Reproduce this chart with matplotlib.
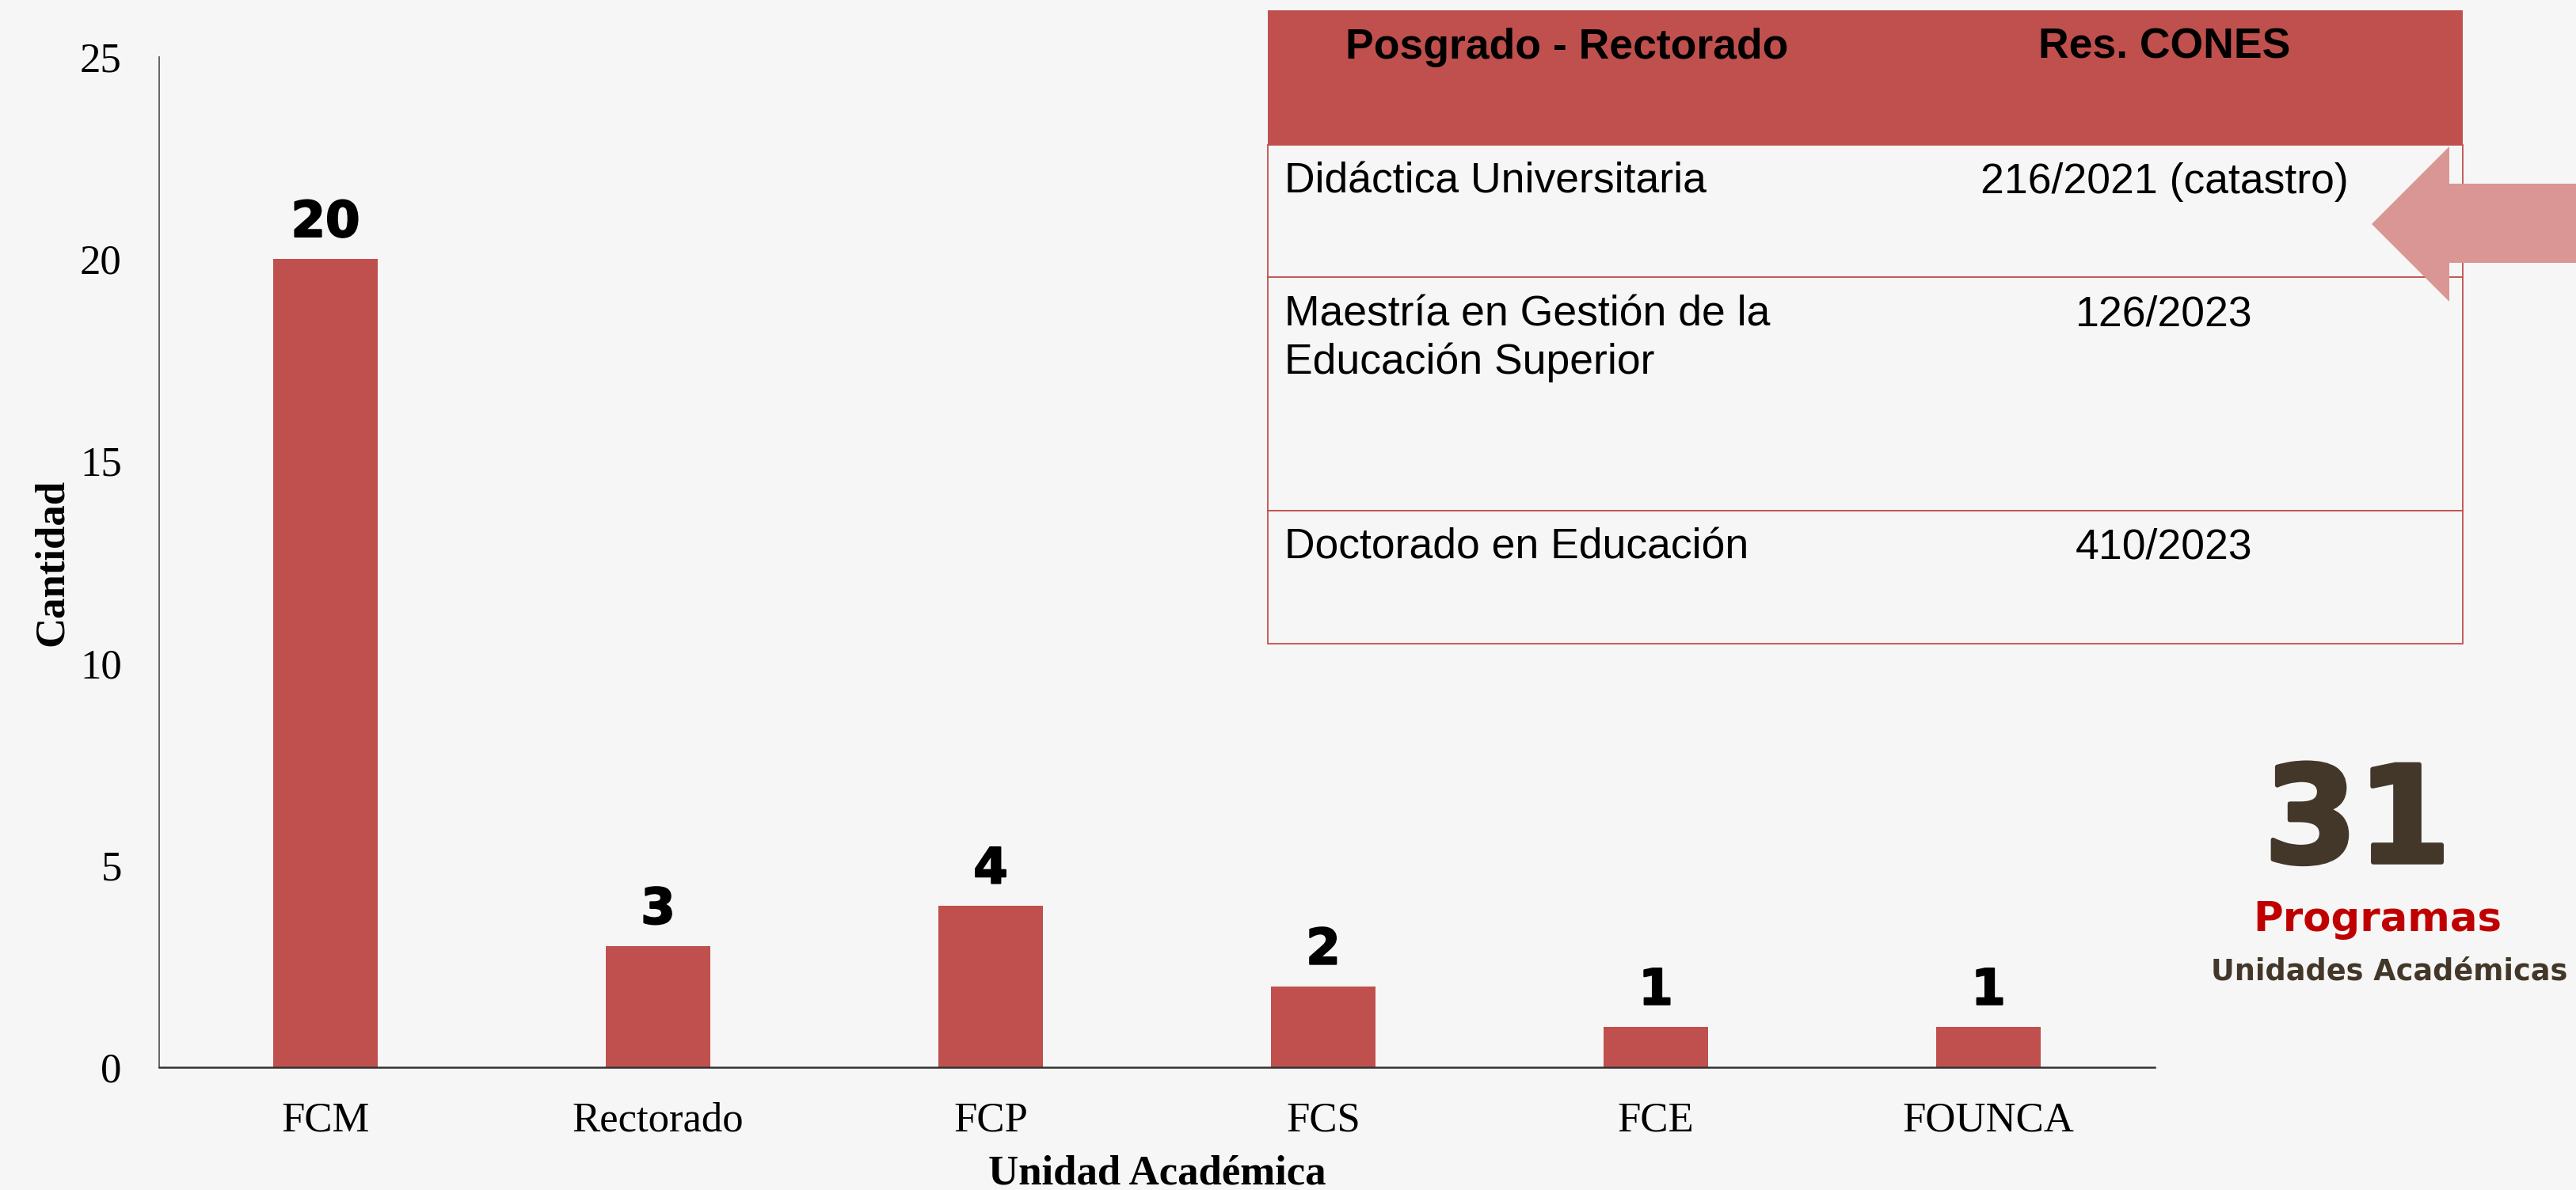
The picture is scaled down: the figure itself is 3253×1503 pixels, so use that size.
import matplotlib
matplotlib.use('Agg')
import matplotlib.pyplot as plt
import matplotlib.patheffects as pe
from matplotlib.patches import Rectangle, Polygon

# datos del gráfico
unidades = ['FCM', 'Rectorado', 'FCP', 'FCS', 'FCE', 'FOUNCA']
cantidades = [20, 3, 4, 2, 1, 1]

# tabla de posgrados del Rectorado
encabezado = ['Posgrado - Rectorado', 'Res. CONES']
programas = ['Didáctica Universitaria',
             'Maestría en Gestión de la\nEducación Superior',
             'Doctorado en Educación']
resoluciones = ['216/2021 (catastro)', '126/2023', '410/2023']

W, H = 3253, 1503
FONDO = '#F6F6F6'
ROJO = '#C0504D'
MARRON = '#433729'

fig = plt.figure(figsize=(W / 100, H / 100), dpi=100, facecolor=FONDO)

# gráfico de barras
ax = fig.add_axes([201 / W, 1 - 1348 / H, (2721 - 201) / W, (1348 - 72) / H])
ax.set_facecolor(FONDO)
barras = ax.bar(unidades, cantidades, width=0.314, color=ROJO, zorder=2)
etiquetas = ax.bar_label(barras, padding=11, fontsize=45, fontweight='bold',
                         family='DejaVu Sans', color='black')
for t in etiquetas:
    t.set_path_effects([pe.withStroke(linewidth=1.5, foreground='black')])
ax.set_xlim(-0.5, len(unidades) - 0.5)
ax.set_ylim(0, 25)
ax.set_yticks(range(0, 26, 5))

for s in ['top', 'right']:
    ax.spines[s].set_visible(False)
ax.spines['left'].set_color('#595959')
ax.spines['left'].set_linewidth(1.3)
ax.spines['bottom'].set_color('#333333')
ax.spines['bottom'].set_linewidth(1.8)

ax.tick_params(axis='y', length=0, pad=34, labelsize=38)
ax.tick_params(axis='x', length=0, pad=31, labelsize=38)
for lbl in ax.get_xticklabels() + ax.get_yticklabels():
    lbl.set_family('Liberation Serif')

ax.set_xlabel('Unidad Académica', family='Liberation Serif', fontweight='bold',
              fontsize=38, labelpad=14)
ax.set_ylabel('Cantidad', family='Liberation Serif', fontweight='bold',
              fontsize=38, labelpad=8)

# capa superior en pixeles para la tabla, la flecha y el total
ov = fig.add_axes([0, 0, 1, 1], zorder=5)
ov.set_xlim(0, W)
ov.set_ylim(H, 0)
ov.axis('off')
ov.patch.set_alpha(0)

x0, x1 = 1601, 3110
col2 = 2733
filas = [183, 350, 645, 813]
fs_tabla = 38.5

ov.add_patch(Rectangle((x0, 13), x1 - x0, filas[0] - 13, facecolor=ROJO,
                       edgecolor='none'))
ov.text(1979, 74, encabezado[0], ha='center', va='baseline', fontsize=fs_tabla,
        fontweight='bold', family='Liberation Sans', color='black')
ov.text(col2, 74, encabezado[1], ha='center', va='baseline', fontsize=fs_tabla,
        fontweight='bold', family='Liberation Sans', color='black')

for i, (prog, res) in enumerate(zip(programas, resoluciones)):
    top, bot = filas[i], filas[i + 1]
    ov.add_patch(Rectangle((x0, top), x1 - x0, bot - top, facecolor=FONDO,
                           edgecolor=ROJO, linewidth=1.3))
    base = top + 61
    for k, linea in enumerate(prog.split('\n')):
        ov.text(1622, base + 61 * k, linea, ha='left', va='baseline',
                fontsize=fs_tabla, family='Liberation Sans', color='black')
    ov.text(col2, base, res, ha='center', va='baseline', fontsize=fs_tabla,
            family='Liberation Sans', color='black')

# flecha
ov.add_patch(Polygon([(2995, 283), (3093, 185), (3093, 232), (W, 232),
                      (W, 332), (3093, 332), (3093, 381)],
                     closed=True, facecolor='#D99694', edgecolor='none',
                     zorder=6))

# total de programas
total = sum(cantidades)
t31 = ov.text(2977, 1089, str(total), ha='center', va='baseline', fontsize=122,
              fontweight='bold', family='DejaVu Sans', color=MARRON)
t31.set_path_effects([pe.withStroke(linewidth=4, foreground=MARRON)])
ov.text(3002, 1176, 'Programas', ha='center', va='baseline', fontsize=37,
        fontweight='bold', family='DejaVu Sans', color='#C00000')
ov.text(3017, 1237, 'Unidades Académicas', ha='center', va='baseline',
        fontsize=26.4, fontweight='bold', family='DejaVu Sans', color=MARRON)

fig.savefig('out.png', dpi=100, facecolor=FONDO)
